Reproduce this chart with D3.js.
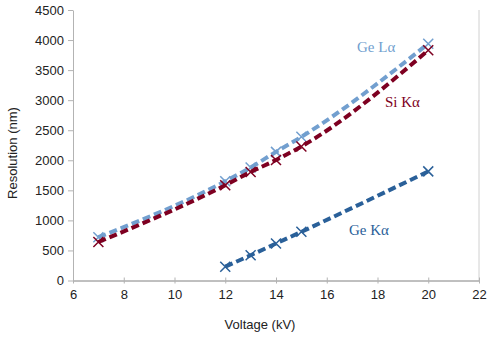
<!DOCTYPE html>
<html>
<head>
<meta charset="utf-8">
<script src="https://cdn.jsdelivr.net/npm/d3@7"></script>
<style>
body { margin: 0; background: white; }
.axis text { font-family: "Liberation Sans", sans-serif; font-size: 13px; fill: #222; }
.label { font-family: "Liberation Sans", sans-serif; font-size: 13px; fill: #222; }
.series { font-family: "Liberation Serif", serif; font-size: 15px; }
</style>
</head>
<body>
<script>

// voltages (kV)
const geLaX = [7, 12, 13, 14, 15, 20];
const geLaY = [720, 1650, 1880, 2140, 2390, 3940];
const siKaX = [7, 12, 13, 14, 15, 20];
const siKaY = [640, 1585, 1805, 2005, 2230, 3830];
const geKaX = [12, 13, 14, 15, 20];
const geKaY = [230, 420, 615, 810, 1815];

const xTicks = [6, 8, 10, 12, 14, 16, 18, 20, 22];
const yTicks = [0, 500, 1000, 1500, 2000, 2500, 3000, 3500, 4000, 4500];

const series = [
  {name: "Ge L\u03b1", xs: geLaX, ys: geLaY, color: "#729fcf", lx: 357, ly: 52},
  {name: "Si K\u03b1", xs: siKaX, ys: siKaY, color: "#7e0021", lx: 385, ly: 107},
  {name: "Ge K\u03b1", xs: geKaX, ys: geKaY, color: "#2a6099", lx: 349, ly: 235}
];

const W = 492, H = 337;
const margin = {top: 10, right: 13, bottom: 56.5, left: 73};
const width = W - margin.left - margin.right;
const height = H - margin.top - margin.bottom;

const svg = d3.select("body").append("svg")
  .attr("width", W).attr("height", H);

const g = svg.append("g").attr("transform", `translate(${margin.left}, ${margin.top})`);

const x = d3.scaleLinear().domain([6, 22]).range([0, width]);
const y = d3.scaleLinear().domain([0, 4500]).range([height, 0]);

// right border of plot area
g.append("line")
  .attr("x1", width).attr("x2", width).attr("y1", 0).attr("y2", height)
  .attr("stroke", "#d0d0d0");

const yAxis = g.append("g").attr("class", "axis")
  .call(d3.axisLeft(y).tickValues(yTicks).tickFormat(d3.format("d"))
    .tickSize(5).tickSizeOuter(0).tickPadding(4));
yAxis.select(".domain").attr("stroke", "#b3b3b3");
yAxis.selectAll(".tick line").attr("stroke", "#b3b3b3");

const xAxis = g.append("g").attr("class", "axis")
  .attr("transform", `translate(0, ${height})`)
  .call(d3.axisBottom(x).tickValues(xTicks).tickSize(3).tickSizeOuter(0).tickPadding(6));
xAxis.select(".domain").attr("stroke", "#808080");
xAxis.selectAll(".tick line").attr("stroke", "#b3b3b3").attr("y1", -3);

const line = d3.line()
  .x(d => x(d[0]))
  .y(d => y(d[1]))
  .curve(d3.curveMonotoneX);

series.forEach(s => {
  const pts = s.xs.map((v, i) => [v, s.ys[i]]);
  g.append("path")
    .datum(pts)
    .attr("d", line)
    .attr("fill", "none")
    .attr("stroke", s.color)
    .attr("stroke-width", 4)
    .attr("stroke-dasharray", "8,4");

  const m = 5;
  g.selectAll(null).data(pts).enter()
    .append("path")
    .attr("d", d => {
      const cx = x(d[0]), cy = y(d[1]);
      return `M${cx - m},${cy - m}L${cx + m},${cy + m}M${cx - m},${cy + m}L${cx + m},${cy - m}`;
    })
    .attr("stroke", s.color)
    .attr("stroke-width", 1.5)
    .attr("fill", "none");

  svg.append("text")
    .attr("class", "series")
    .attr("x", s.lx).attr("y", s.ly)
    .attr("fill", s.color)
    .text(s.name);
});

svg.append("text")
  .attr("class", "label")
  .attr("transform", "translate(17, 153) rotate(-90)")
  .attr("text-anchor", "middle")
  .text("Resolution (nm)");

svg.append("text")
  .attr("class", "label")
  .attr("x", 260)
  .attr("y", 329)
  .attr("text-anchor", "middle")
  .text("Voltage (kV)");

</script>
</body>
</html>
